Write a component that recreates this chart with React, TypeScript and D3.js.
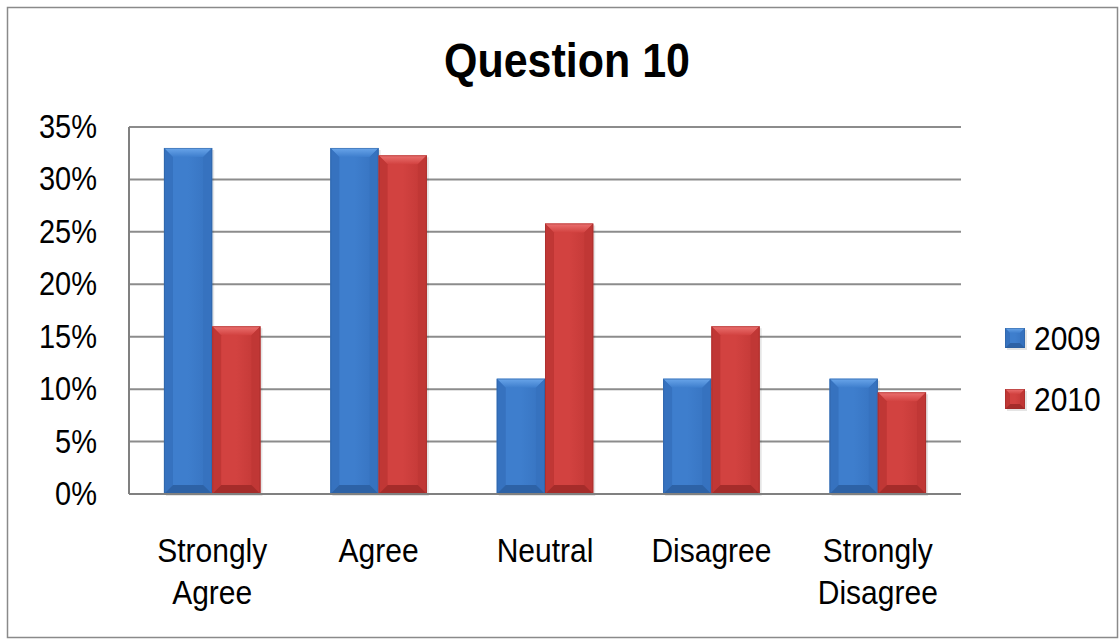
import * as d3 from "d3";

const categories = ["Strongly Agree", "Agree", "Neutral", "Disagree", "Strongly Disagree"];
const series = ["2009", "2010"];
const values2009 = [33, 33, 11, 11, 11];
const values2010 = [16, 32.3, 25.8, 16, 9.7];
const yTicks = [0, 5, 10, 15, 20, 25, 30, 35];

const W = 1120;
const H = 641;
const margin = { top: 127, right: 159, bottom: 147, left: 129 };

const palette: Record<string, { face: string; top: string; side: string; bottom: string; edge: string }> = {
  "2009": { face: "#3e7ecd", top: "#6aa6ea", side: "#3672bf", bottom: "#2d62a6", edge: "#2b5d9c" },
  "2010": { face: "#d24240", top: "#ec7271", side: "#c03735", bottom: "#a52c2a", edge: "#9b2a28" },
};

function BevelBar({ x, y, w, h, s }: { x: number; y: number; w: number; h: number; s: string }) {
  const c = palette[s];
  const b = Math.min(9, w / 4, h / 3);
  const pts = (arr: number[][]) => arr.map((p) => p.join(",")).join(" ");
  return (
    <g>
      <rect x={x + 2} y={y + 2} width={w} height={h} fill="#000" opacity={0.1} />
      <rect x={x} y={y} width={w} height={h} fill={`url(#face${s})`} />
      <polygon points={pts([[x, y], [x + w, y], [x + w - b, y + b], [x + b, y + b]])} fill={`url(#top${s})`} />
      <polygon points={pts([[x, y], [x + b, y + b], [x + b, y + h - b], [x, y + h]])} fill={c.side} />
      <polygon points={pts([[x + w, y], [x + w - b, y + b], [x + w - b, y + h - b], [x + w, y + h]])} fill={c.side} />
      <polygon points={pts([[x, y + h], [x + b, y + h - b], [x + w - b, y + h - b], [x + w, y + h]])} fill={c.bottom} />
      <rect x={x + 0.5} y={y + 0.5} width={w - 1} height={h - 1} fill="none" stroke={c.edge} strokeWidth={1} opacity={0.5} />
    </g>
  );
}

function Label({ x, y, size, anchor, bold, children }: { x: number; y: number; size: number; anchor?: string; bold?: boolean; children: string }) {
  return (
    <text
      transform={`translate(${x},${y}) scale(1,1.12)`}
      textAnchor={anchor ?? "start"}
      fontSize={size}
      fontWeight={bold ? "bold" : "normal"}
      fill="#000"
    >
      {children}
    </text>
  );
}

export default function App() {
  const innerW = W - margin.left - margin.right;
  const innerH = H - margin.top - margin.bottom;

  const x0 = d3.scaleBand<string>().domain(categories).range([0, innerW]).paddingInner(0.42).paddingOuter(0.21);
  const x1 = d3.scaleBand<string>().domain(series).range([0, x0.bandwidth()]);
  const y = d3.scaleLinear().domain([0, 35]).range([innerH, 0]);

  const data = categories.map((cat, i) => ({ cat, vals: [values2009[i], values2010[i]] }));
  const font = "'Liberation Sans', Arial, sans-serif";

  return (
    <svg width={W} height={H} style={{ position: "absolute", left: 0, top: 0, background: "#fff" }} fontFamily={font}>
      <defs>
        {series.map((s) => (
          <g key={s}>
            <linearGradient id={`face${s}`} x1="0" y1="0" x2="1" y2="0">
              <stop offset="0" stopColor={palette[s].face} />
              <stop offset="0.5" stopColor={palette[s].face} />
              <stop offset="1" stopColor={palette[s].side} />
            </linearGradient>
            <linearGradient id={`top${s}`} x1="0" y1="0" x2="0" y2="1">
              <stop offset="0" stopColor={palette[s].top} />
              <stop offset="1" stopColor={palette[s].face} />
            </linearGradient>
          </g>
        ))}
      </defs>
      <rect x={7.5} y={7.5} width={1110} height={630} fill="#fff" stroke="#8a8a8a" strokeWidth={1.5} />
      <Label x={567} y={77} size={43} anchor="middle" bold>
        Question 10
      </Label>
      <g transform={`translate(${margin.left},${margin.top})`}>
        {yTicks.map((t) => (
          <g key={t}>
            {t > 0 && <line x1={0} x2={innerW} y1={y(t)} y2={y(t)} stroke="#8c8c8c" strokeWidth={2} />}
            <Label x={-32} y={y(t) + 11} size={29} anchor="end">
              {`${t}%`}
            </Label>
          </g>
        ))}
        {data.map((d) => (
          <g key={d.cat} transform={`translate(${x0(d.cat)},0)`}>
            {d.vals.map((v, j) => (
              <BevelBar key={j} x={x1(series[j])!} y={y(v)} w={x1.bandwidth()} h={innerH - y(v)} s={series[j]} />
            ))}
          </g>
        ))}
        <line x1={0} x2={innerW} y1={innerH} y2={innerH} stroke="#808080" strokeWidth={2} />
        <line x1={0} x2={0} y1={0} y2={innerH} stroke="#808080" strokeWidth={2} />
        {categories.map((cat) => {
          const cx = x0(cat)! + x0.bandwidth() / 2;
          return (
            <g key={cat}>
              {cat.split(" ").map((w, k) => (
                <Label key={k} x={cx} y={innerH + 68 + k * 42} size={30} anchor="middle">
                  {w}
                </Label>
              ))}
            </g>
          );
        })}
      </g>
      <g transform="translate(1005,328)">
        {series.map((s, i) => (
          <g key={s} transform={`translate(0,${i * 61})`}>
            <BevelBar x={0} y={0} w={20} h={20} s={s} />
            <Label x={29} y={22} size={30}>
              {s}
            </Label>
          </g>
        ))}
      </g>
    </svg>
  );
}
